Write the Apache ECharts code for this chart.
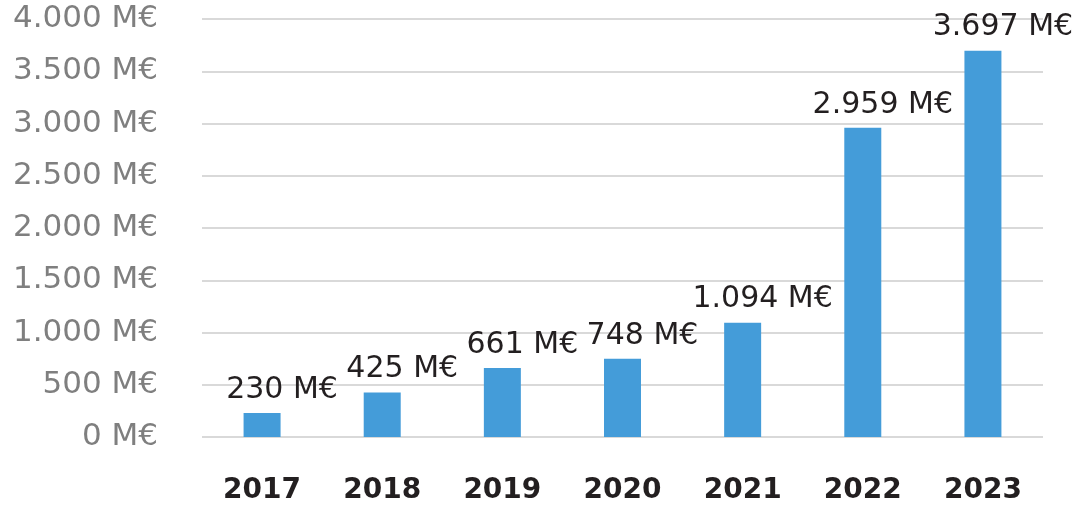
<!DOCTYPE html>
<html>
<head>
<meta charset="utf-8">
<script src="https://cdn.jsdelivr.net/npm/echarts@6/dist/echarts.min.js"></script>
<style>html,body{margin:0;padding:0;background:#fff;}#c{width:1076px;height:505px;}</style>
</head>
<body>
<div id="c"></div>
<script>
const years = ['2017','2018','2019','2020','2021','2022','2023'];
const values = [230, 425, 661, 748, 1094, 2959, 3697];
const yMin = 0, yMax = 4000, yStep = 500;

function fmt(v){
  const s = String(Math.round(v));
  const parts = [];
  for (let i = s.length; i > 0; i -= 3) parts.unshift(s.slice(Math.max(0, i-3), i));
  return parts.join('.') + ' M€';
}

const chart = echarts.init(document.getElementById('c'));
chart.setOption({
  animation: false,
  backgroundColor: '#fff',
  grid: {left: 202, right: 33, top: 19, bottom: 67, containLabel: false},
  xAxis: {
    type: 'category', data: years,
    axisLine: {show: false}, axisTick: {show: false},
    axisLabel: {fontFamily: 'DejaVu Sans', fontWeight: 'bold', fontSize: 28, color: '#231f20', margin: 40}
  },
  yAxis: {
    type: 'value', min: yMin, max: yMax, interval: yStep,
    axisLine: {show: false}, axisTick: {show: false},
    axisLabel: {fontFamily: 'DejaVu Sans', fontSize: 31, color: '#7f7f7f', margin: 44, formatter: fmt, padding: [4, 0, 0, 0]},
    splitLine: {lineStyle: {color: '#d9d9d9', width: 2}}
  },
  series: [{
    type: 'bar', data: values, barWidth: 37,
    itemStyle: {color: '#449cd9'},
    label: {show: true, position: 'top', distance: 8, offset: [20, 0],
      fontFamily: 'DejaVu Sans', fontSize: 30, color: '#231f20',
      formatter: p => fmt(p.value)}
  }]
});
</script>
</body>
</html>
